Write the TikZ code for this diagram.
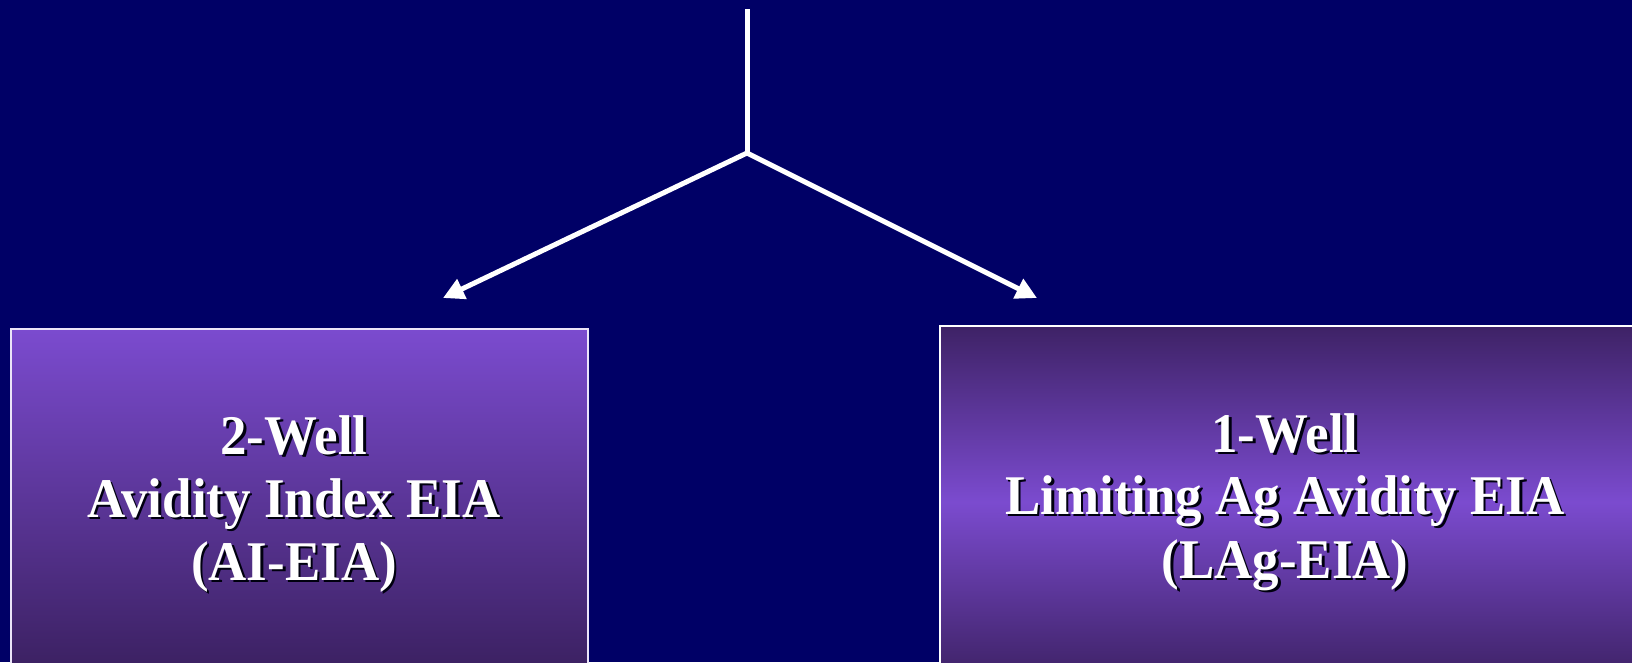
\documentclass[tikz,border=0pt]{standalone}
\usepackage{fontspec}
\setmainfont{Liberation Serif}
\usetikzlibrary{arrows.meta,calc}
\definecolor{navy}{HTML}{000066}
\definecolor{violetlight}{HTML}{7B4BCF}
\definecolor{violetdark}{HTML}{3E2266}
\tikzset{
  box/.style={draw=white, inner sep=0pt, outer sep=0pt},
  txt/.style={text=white, font=\bfseries\fontsize{56}{63}\selectfont, inner sep=0pt, anchor=base},
  txtshadow/.style={txt, text=black!85!navy},
  conn/.style={draw=white, line width=5pt},
  arr/.style={conn, -{Triangle[length=21pt,width=21pt]}},
}
\newcommand\shtext[3]{%
  \node[txtshadow] at ($(#2)+(2.5,2.5)$) {\scalebox{0.945}[1]{#3}};
  \node[txt] (#1) at (#2) {\scalebox{0.945}[1]{#3}};}
\begin{document}
\begin{tikzpicture}[x=1pt,y=-1pt]
\useasboundingbox (0,0) rectangle (1632,662);
\fill[navy] (0,0) rectangle (1632,662);
\begin{scope}
\clip (0,0) rectangle (1632,662);
% left box
\node[box, line width=1.5pt, draw=white!85!violetlight, top color=violetlight, bottom color=violetdark!95!black,
  minimum width=577pt, minimum height=343pt, anchor=north west] (lbox) at (11,329) {};
% right box
\node[box, line width=2.5pt, top color=violetdark, bottom color=violetdark, middle color=violetlight,
  minimum width=710pt, minimum height=352pt, anchor=north west] (rbox) at (940,326) {};
\end{scope}
% texts
\coordinate (l1) at (294,454);
\coordinate (l2) at (294,517);
\coordinate (l3) at (294,580);
\coordinate (r1) at (1285,452);
\coordinate (r2) at (1285,514);
\coordinate (r3) at (1285,578);
\shtext{la}{l1}{2-Well}
\shtext{lb}{l2}{Avidity Index EIA}
\shtext{lc}{l3}{(AI-EIA)}
\shtext{ra}{r1}{1-Well}
\shtext{rb}{r2}{Limiting Ag Avidity EIA}
\shtext{rc}{r3}{(LAg-EIA)}
% connectors
\coordinate (top) at (747,9);
\coordinate (fork) at (747,153);
\coordinate (ltip) at (443,298);
\coordinate (rtip) at (1037,298);
\draw[conn] (top) -- (fork);
\draw[arr] (fork) -- (ltip);
\draw[arr] (fork) -- (rtip);
\end{tikzpicture}
\end{document}
